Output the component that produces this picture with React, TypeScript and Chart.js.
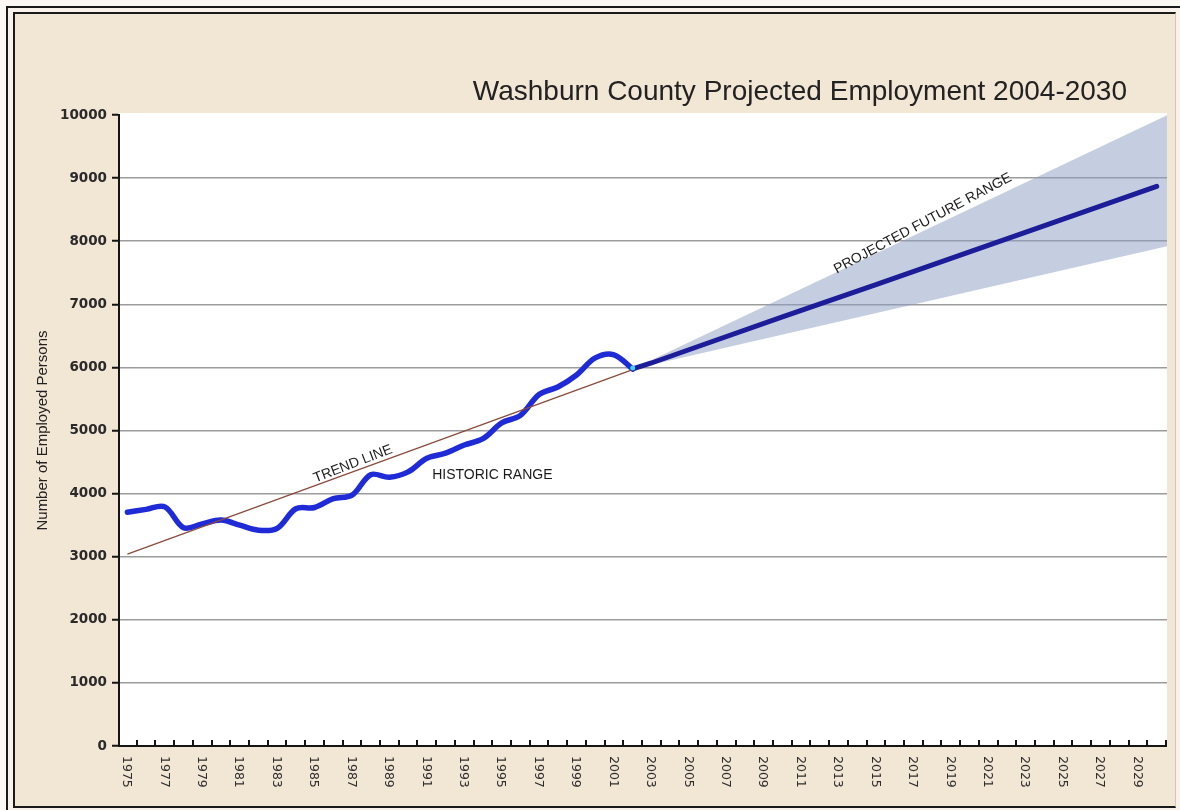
import { useEffect, useRef } from 'react';
import { Chart, registerables } from 'chart.js';

Chart.register(...registerables);

const historicYears = [1975, 1976, 1977, 1978, 1979, 1980, 1981, 1982, 1983, 1984, 1985, 1986, 1987, 1988, 1989, 1990, 1991, 1992, 1993, 1994, 1995, 1996, 1997, 1998, 1999, 2000, 2001, 2002];
const historicValues = [3705, 3750, 3790, 3460, 3520, 3580, 3500, 3420, 3450, 3760, 3780, 3920, 3975, 4300, 4260, 4345, 4560, 4640, 4770, 4870, 5120, 5240, 5570, 5690, 5880, 6150, 6200, 5975];

const trendYears = [1975, 2002];
const trendValues = [3040, 5965];

const projectionYears = [2002, 2003, 2005, 2010, 2015, 2020, 2025, 2030];
const projectionValues = [5975, 6070, 6280, 6800, 7310, 7830, 8350, 8870];

const bandYears = [2002, 2031];
const bandUpper = [5975, 10060];
const bandLower = [5975, 7950];

const junctionYears = [2002];
const junctionValues = [5990];

const xLabels = ['1975', '1977', '1979', '1981', '1983', '1985', '1987', '1989', '1991', '1993', '1995', '1997', '1999', '2001', '2003', '2005', '2007', '2009', '2011', '2013', '2015', '2017', '2019', '2021', '2023', '2025', '2027', '2029'];
const yTicks = [0, 1000, 2000, 3000, 4000, 5000, 6000, 7000, 8000, 9000, 10000];

const titleText = 'Washburn County Projected Employment 2004-2030';
const yTitle = 'Number of Employed Persons';
const notes = [
  { text: 'TREND LINE', year: 1987.05, value: 4470, angle: -21 },
  { text: 'HISTORIC RANGE', year: 1994.5, value: 4290, angle: 0 },
  { text: 'PROJECTED FUTURE RANGE', year: 2017.5, value: 8280, angle: -28 },
];

const X_MIN = 1974.55;
const X_MAX = 2030.55;

const pts = (xs: number[], ys: number[]) => xs.map((x, i) => ({ x, y: ys[i] }));

const decor = {
  id: 'decor',
  beforeDraw(chart: any) {
    const { ctx, chartArea: a } = chart;
    ctx.save();
    ctx.fillStyle = '#ffffff';
    ctx.fillRect(a.left, a.top - 2, a.right - a.left, a.bottom - a.top + 2);
    ctx.restore();
  },
  afterDraw(chart: any) {
    const { ctx, chartArea: a, scales } = chart;
    const x = scales.x;
    const y = scales.y;
    ctx.save();
    // x axis line and inward ticks
    ctx.strokeStyle = '#151515';
    ctx.lineWidth = 2;
    ctx.beginPath();
    ctx.moveTo(a.left - 1, a.bottom);
    ctx.lineTo(a.right, a.bottom);
    ctx.moveTo(a.right - 1, a.bottom);
    ctx.lineTo(a.right - 1, a.bottom - 6);
    for (let yr = 1975; yr < 2030; yr++) {
      const px = Math.round(x.getPixelForValue(yr + 0.5));
      ctx.moveTo(px, a.bottom);
      ctx.lineTo(px, a.bottom - 6);
    }
    ctx.stroke();

    // x labels, reading top to bottom
    ctx.fillStyle = '#2e2e2e';
    ctx.font = '12.5px "DejaVu Sans"';
    ctx.textAlign = 'left';
    ctx.textBaseline = 'middle';
    for (const lab of xLabels) {
      const px = x.getPixelForValue(Number(lab));
      ctx.save();
      ctx.translate(px - 1, a.bottom + 10);
      ctx.rotate(Math.PI / 2);
      ctx.fillText(lab, 0, 0);
      ctx.restore();
    }

    // title
    ctx.fillStyle = '#222222';
    ctx.font = '28px "Liberation Sans", Arial, sans-serif';
    ctx.textAlign = 'right';
    ctx.textBaseline = 'alphabetic';
    ctx.fillText(titleText, 1127, 100);

    // annotations
    ctx.font = '14px "Liberation Sans", Arial, sans-serif';
    ctx.fillStyle = '#1a1a1a';
    ctx.textAlign = 'center';
    ctx.textBaseline = 'middle';
    for (const n of notes) {
      ctx.save();
      ctx.translate(x.getPixelForValue(n.year), y.getPixelForValue(n.value));
      ctx.rotate((n.angle * Math.PI) / 180);
      ctx.fillText(n.text, 0, 0);
      ctx.restore();
    }
    ctx.restore();
  },
};

export default function App() {
  const ref = useRef<HTMLCanvasElement | null>(null);

  useEffect(() => {
    document.body.style.margin = '0';
    const canvas = ref.current;
    if (!canvas) return;
    const chart = new Chart(canvas, {
      type: 'line',
      data: {
        datasets: [
          {
            label: 'Band upper',
            data: pts(bandYears, bandUpper),
            borderWidth: 0,
            pointRadius: 0,
            backgroundColor: 'rgba(139,157,193,0.5)',
            fill: '+1',
            tension: 0,
            order: 6,
          },
          {
            label: 'Band lower',
            data: pts(bandYears, bandLower),
            borderWidth: 0,
            pointRadius: 0,
            fill: false,
            tension: 0,
            order: 7,
          },
          {
            label: 'Historic',
            data: pts(historicYears, historicValues),
            borderColor: '#1f2bd6',
            borderWidth: 5.5,
            pointRadius: 0,
            tension: 0.35,
            fill: false,
            borderCapStyle: 'round',
            order: 3,
          },
          {
            label: 'Trend',
            data: pts(trendYears, trendValues),
            borderColor: '#8a4b3c',
            borderWidth: 1.3,
            pointRadius: 0,
            tension: 0,
            fill: false,
            order: 2,
          },
          {
            label: 'Projection',
            data: pts(projectionYears, projectionValues),
            borderColor: '#1d1d9a',
            borderWidth: 5,
            pointRadius: 0,
            tension: 0,
            fill: false,
            borderCapStyle: 'round',
            order: 1,
          },
          {
            label: 'Junction',
            data: pts(junctionYears, junctionValues),
            showLine: false,
            pointRadius: 2.5,
            pointBorderWidth: 0,
            pointBackgroundColor: '#3fd2f2',
            order: 0,
          },
        ],
      },
      options: {
        responsive: false,
        animation: false,
        events: [],
        layout: { padding: { left: 0, top: 115, right: 13, bottom: 0 } },
        plugins: {
          legend: { display: false },
          tooltip: { enabled: false },
          title: { display: false },
        },
        scales: {
          x: {
            type: 'linear',
            min: X_MIN,
            max: X_MAX,
            ticks: { display: false },
            grid: { display: false, drawTicks: false },
            border: { display: false },
            afterFit: (s: any) => {
              s.height = 64;
            },
          },
          y: {
            type: 'linear',
            min: 0,
            max: 10000,
            afterBuildTicks: (s: any) => {
              s.ticks = yTicks.map((v) => ({ value: v }));
            },
            ticks: {
              color: '#2a2a2a',
              font: { family: '"DejaVu Sans"', size: 13.5, weight: 'bold' },
              padding: 5,
              callback: (v: any) => String(v),
            },
            grid: {
              color: (c: any) => (c.tick && (c.tick.value === 0 || c.tick.value === 10000) ? 'rgba(0,0,0,0)' : '#9c9c9c'),
              lineWidth: 1.5,
              tickLength: 7,
              tickColor: '#151515',
              tickWidth: 2,
            },
            border: { display: true, color: '#151515', width: 2 },
            title: {
              display: true,
              text: yTitle,
              color: '#222222',
              font: { family: '"Liberation Sans", Arial, sans-serif', size: 15 },
              padding: { top: 34, bottom: 0 },
            },
            afterFit: (s: any) => {
              s.width = 119;
            },
          },
        },
      },
      plugins: [decor],
    });
    return () => chart.destroy();
  }, []);

  return (
    <div style={{ position: 'fixed', left: 0, top: 0, width: 1180, height: 810, background: '#fbf8f3', overflow: 'hidden' }}>
      <div style={{ position: 'absolute', left: 6, top: 6, width: 1210, height: 830, border: '2px solid #1a1a1a', boxSizing: 'border-box', background: '#f8f2ea' }} />
      <div style={{ position: 'absolute', left: 13, top: 12, width: 1163, height: 796, borderTop: '2px solid #1a1a1a', borderLeft: '2px solid #1a1a1a', borderBottom: '2px solid #1a1a1a', borderRight: '1px solid #cfc7bb', boxSizing: 'border-box', background: '#f2e6d5' }} />
      <canvas ref={ref} width={1180} height={810} style={{ position: 'absolute', left: 0, top: 0, width: 1180, height: 810 }} />
    </div>
  );
}
